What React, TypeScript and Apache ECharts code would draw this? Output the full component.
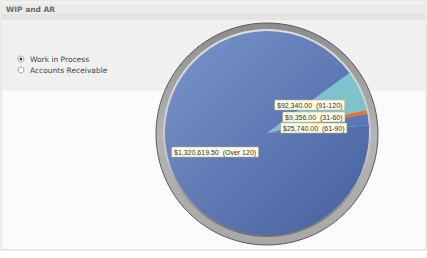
import React, { useEffect, useRef } from "react";
import * as echarts from "echarts";

const title = "WIP and AR";
const radioOptions = ["Work in Process", "Accounts Receivable"];
const selectedRadio = 0;
const categories = ["91-120", "31-60", "61-90", "Over 120"];
const values = [92340.0, 9356.0, 25740.0, 1320619.5];
const sliceColors = ["#7cc3cc", "#e8712c", "#5878b8", "#5a76b3"];
const labelPos = [
  [275, 105],
  [283, 117],
  [281, 128],
  [172, 152],
];

function money(v: number) {
  return "$" + v.toLocaleString("en-US", { minimumFractionDigits: 2, maximumFractionDigits: 2 });
}

export default function App() {
  const ref = useRef<HTMLDivElement>(null);
  useEffect(() => {
    document.body.style.margin = "0";
    const chart = echarts.init(ref.current!, null, { renderer: "svg" });
    const cx = 267;
    const cy = 134;
    const font = "'DejaVu Sans', Verdana, sans-serif";
    const radioGraphics: any[] = [];
    radioOptions.forEach((t, i) => {
      const y = 59 + i * 11;
      radioGraphics.push({
        type: "circle",
        shape: { cx: 21, cy: y, r: 3 },
        style: { fill: "#fff", stroke: "#888", lineWidth: 0.8 },
        z: 10,
      });
      if (i === selectedRadio) {
        radioGraphics.push({
          type: "circle",
          shape: { cx: 21, cy: y, r: 1.3 },
          style: { fill: "#333" },
          z: 11,
        });
      }
      radioGraphics.push({
        type: "text",
        x: 30,
        y: y,
        style: { text: t, fill: "#444", font: "7.5px " + font, textVerticalAlign: "middle" },
        z: 10,
      });
    });
    const option: any = {
      animation: false,
      backgroundColor: "#ffffff",
      graphic: [
        { type: "rect", shape: { x: 1, y: 1, width: 425, height: 249 }, style: { fill: "#fbfbfb", stroke: "#d6d6d6", lineWidth: 1 }, z: -10 },
        { type: "rect", shape: { x: 2, y: 3, width: 423, height: 11 }, style: { fill: "#ebebeb" }, z: -9 },
        { type: "rect", shape: { x: 2, y: 14, width: 423, height: 6 }, style: { fill: "#e3e3e3" }, z: -9 },
        { type: "rect", shape: { x: 2, y: 20, width: 423, height: 71 }, style: { fill: "#f0f0f0" }, z: -9 },
        {
          type: "text",
          x: 6,
          y: 9,
          style: { text: title, fill: "#6a6a6a", font: "bold 7.5px " + font, textVerticalAlign: "middle" },
          z: 10,
        },
        ...radioGraphics,
      ],
      series: [
        {
          type: "pie",
          silent: true,
          center: [cx, cy],
          radius: [0, 111],
          label: { show: false },
          labelLine: { show: false },
          z: 1,
          data: [
            {
              value: 1,
              itemStyle: {
                borderColor: "#5a5a5a",
                borderWidth: 1,
                color: new echarts.graphic.LinearGradient(0, 0, 0, 1, [
                  { offset: 0, color: "#8c8c8c" },
                  { offset: 0.5, color: "#b4b4b4" },
                  { offset: 1, color: "#a8a8a8" },
                ]),
              },
            },
          ],
        },
        {
          type: "pie",
          silent: true,
          center: [cx, cy - 1],
          radius: [0, 104],
          label: { show: false },
          labelLine: { show: false },
          z: 2,
          data: [
            {
              value: 1,
              itemStyle: {
                color: new echarts.graphic.LinearGradient(0, 0, 0, 1, [
                  { offset: 0, color: "#dedede" },
                  { offset: 0.6, color: "#c8c8c8" },
                  { offset: 1, color: "#6f6f6f" },
                ]),
              },
            },
          ],
        },
        {
          type: "pie",
          center: [cx, cy - 1],
          radius: [0, 102],
          startAngle: 36,
          clockwise: true,
          z: 3,
          itemStyle: { borderWidth: 0 },
          label: {
            show: true,
            position: "inside",
            formatter: (p: any) => money(p.value) + "  (" + p.name + ")",
            fontSize: 7,
            fontFamily: "'Liberation Sans', Arial, sans-serif",
            color: "#333",
            backgroundColor: "#fffbe6",
            borderColor: "#bdb48e",
            borderWidth: 0.6,
            padding: [1.5, 2, 1, 2],
          },
          labelLayout: (p: any) => ({
            x: labelPos[p.dataIndex][0],
            y: labelPos[p.dataIndex][1],
            align: "left",
            verticalAlign: "middle",
          }),
          data: categories.map((c, i) => ({
            name: c,
            value: values[i],
            itemStyle: {
              color:
                i === 3
                  ? new echarts.graphic.LinearGradient(0, 0, 1, 1, [
                      { offset: 0, color: "#7a94ca" },
                      { offset: 1, color: "#45609f" },
                    ])
                  : sliceColors[i],
            },
          })),
        },
      ],
    };
    chart.setOption(option);
    return () => chart.dispose();
  }, []);
  return <div ref={ref} style={{ width: 427, height: 258, position: "absolute", left: 0, top: 0 }} />;
}
